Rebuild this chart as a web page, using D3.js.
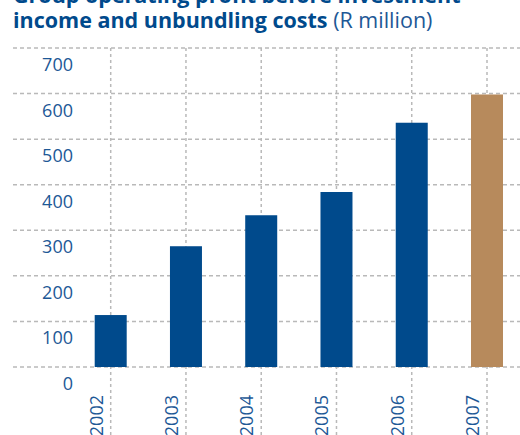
<!DOCTYPE html>
<html lang="en">
<head>
<meta charset="utf-8">
<script src="https://d3js.org/d3.v7.min.js"></script>
<style>
  body, html { margin: 0; padding: 0; background: #fff; overflow: hidden; }
  svg { display: block; font-family: 'Open Sans', 'Noto Sans', sans-serif; }
</style>
</head>
<body>
<div id="chart"></div>
<script>
// chart values
const years = ["2002", "2003", "2004", "2005", "2006", "2007"];
const profit = [114, 265, 333, 384, 536, 598];
const yTicks = [0, 100, 200, 300, 400, 500, 600, 700];

const width = 520, height = 435;
const blue = "#004a8c", gold = "#b78a5c", textBlue = "#1d5896";

const svg = d3.select("#chart").append("svg")
    .attr("width", width)
    .attr("height", height);

// title (first line is cropped at top, as in the source)
const title = svg.append("text")
    .attr("x", 13)
    .attr("fill", blue)
    .style("font-size", "21.5px");
title.append("tspan").attr("x", 13).attr("y", 3)
    .style("font-weight", "bold")
    .text("Group operating profit before investment");
title.append("tspan").attr("x", 13).attr("y", 27.5)
    .style("font-weight", "bold")
    .text("income and unbundling costs");
title.append("tspan")
    .attr("fill", textBlue)
    .text(" (R million)");

const x = d3.scalePoint()
    .domain(years)
    .range([110.7, 487]);

const y = d3.scaleLinear()
    .domain([0, 700])
    .range([367, 48]);

const barW = 32;

// vertical dotted grid at category centres
svg.append("g").selectAll("line")
  .data(years)
  .join("line")
    .attr("x1", d => x(d)).attr("x2", d => x(d))
    .attr("y1", y(700)).attr("y2", height)
    .attr("stroke", "#b9b9b9")
    .attr("stroke-width", 1.5)
    .attr("stroke-dasharray", "3,3");

// horizontal grid
svg.append("g").selectAll("line")
  .data(yTicks)
  .join("line")
    .attr("x1", 13).attr("x2", width)
    .attr("y1", d => y(d)).attr("y2", d => y(d))
    .attr("stroke", "#b9b9b9")
    .attr("stroke-width", 1.5)
    .attr("stroke-dasharray", "4,3");

// bars
svg.append("g").selectAll("rect")
  .data(years)
  .join("rect")
    .attr("x", d => x(d) - barW / 2)
    .attr("width", barW)
    .attr("y", (d, i) => y(profit[i]))
    .attr("height", (d, i) => y(0) - y(profit[i]))
    .attr("fill", (d, i) => i === years.length - 1 ? gold : blue);

// y labels sit just below their gridline
svg.append("g").selectAll("text")
  .data(yTicks)
  .join("text")
    .attr("x", 73)
    .attr("y", d => y(d) + 23)
    .attr("text-anchor", "end")
    .attr("fill", textBlue)
    .style("font-size", "18px")
    .text(d => d);

// rotated year labels
svg.append("g").selectAll("text")
  .data(years)
  .join("text")
    .attr("transform", d => `translate(${x(d) - 8},395) rotate(-90)`)
    .attr("text-anchor", "end")
    .attr("fill", textBlue)
    .style("font-size", "18px")
    .text(d => d);
</script>
</body>
</html>
